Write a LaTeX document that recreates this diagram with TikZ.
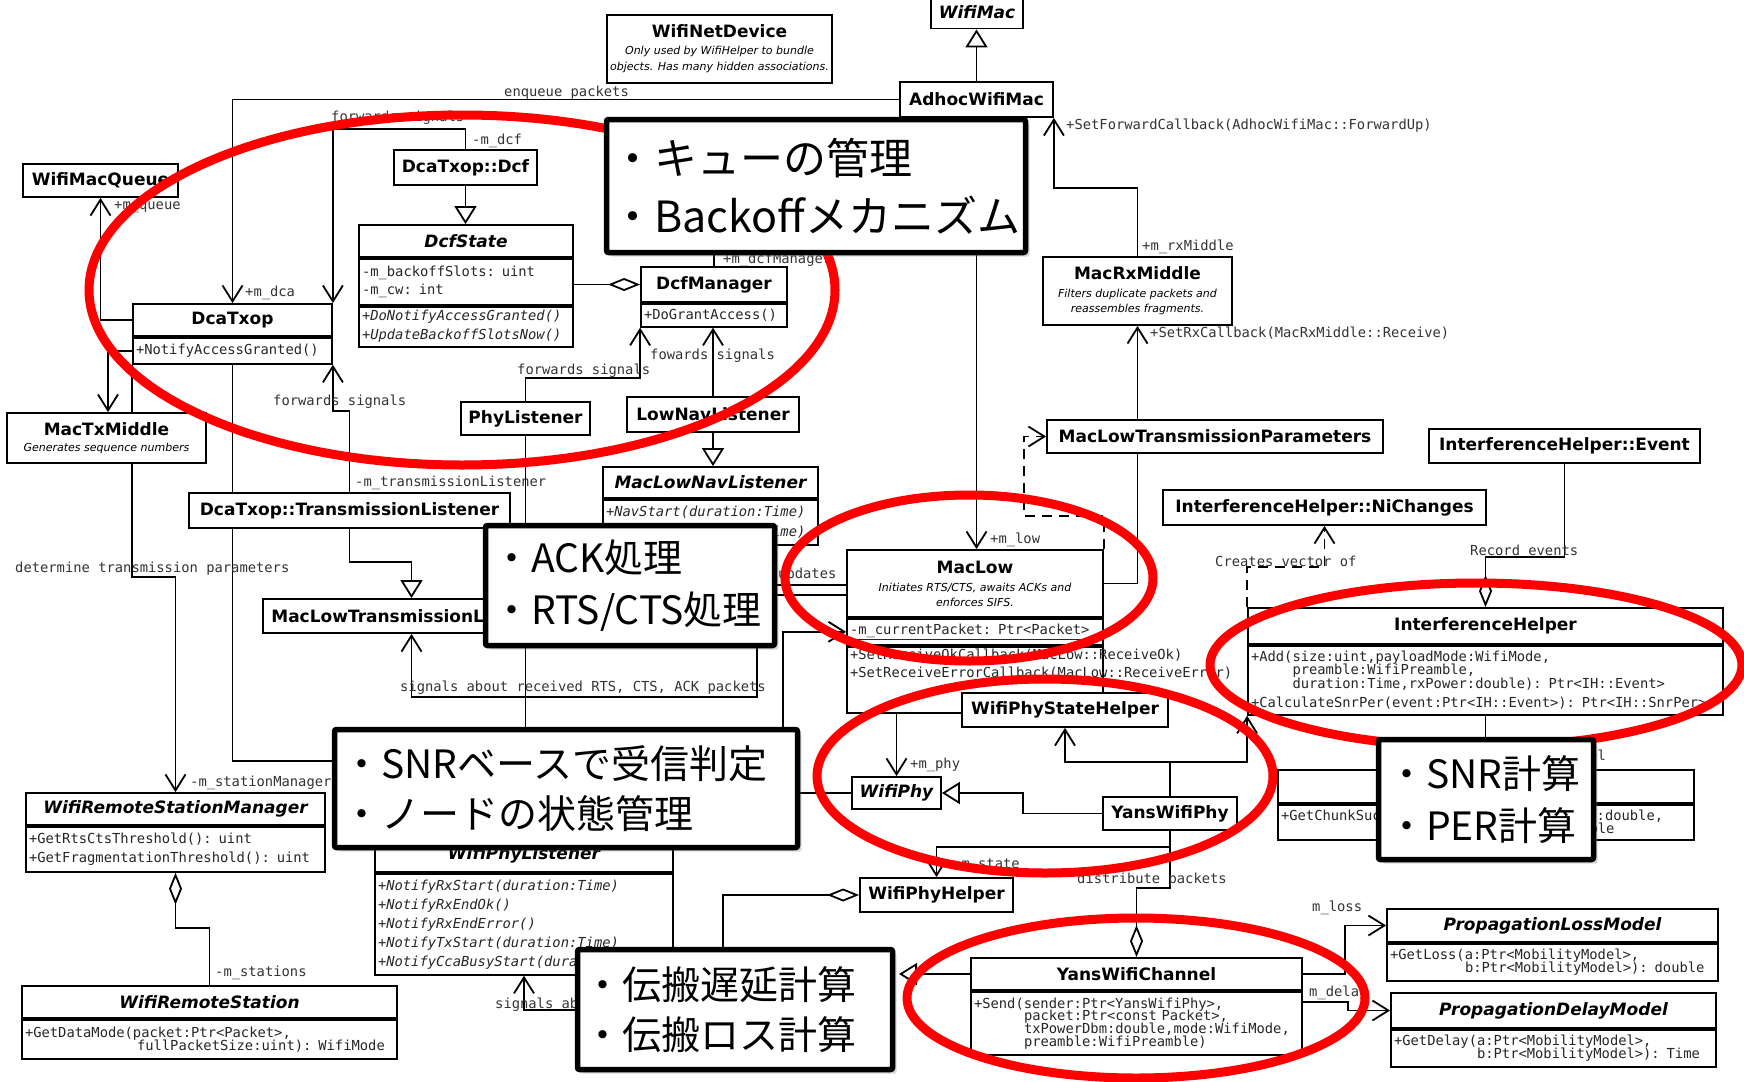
\documentclass[tikz,border=0pt]{standalone}
\usepackage{fontspec}
\usepackage{tikz}
\usetikzlibrary{arrows.meta,shadows,positioning}
\newfontfamily\umlsf{DejaVu Sans}
\newfontfamily\umltt{DejaVu Sans Mono}[HyphenChar=None]
\newfontfamily\jpfont{Noto Sans CJK JP}
\newcommand\umltitle{\umlsf\bfseries\fontsize{17}{18}\selectfont}
\newcommand\umldesc{\umlsf\mdseries\itshape\fontsize{11}{16}\selectfont}
\newcommand\umlcode{\umltt\fontsize{13.8}{18}\selectfont}
\tikzstyle{cls} = [rectangle, draw=black, line width=1.8pt, fill=white, inner sep=2pt, align=center, font=\umltitle]
\tikzstyle{abscls} = [cls, font=\umltitle\itshape]
\tikzstyle{ops} = [rectangle, draw=black, line width=1.8pt, fill=white, inner xsep=3pt, inner ysep=2pt, align=left, anchor=north west, font=\umlcode, text=black!85]
\tikzstyle{lbl} = [inner sep=0pt, anchor=west, font=\umlcode, text=black!80]
\tikzstyle{wire} = [line width=1.8pt]
\tikzstyle{assoc} = [wire, -{Straight Barb[length=16pt,width=20pt]}]
\tikzstyle{inherit} = [wire, -{Triangle[length=18pt,width=22pt,fill=white]}]
\tikzstyle{aggr} = [wire, {Diamond[length=32pt,width=13pt,fill=white]}-]
\tikzstyle{ring} = [draw=red, line width=9pt]
\tikzstyle{memo} = [rectangle, draw=black, line width=5.5pt, fill=white, rounded corners=2pt, inner ysep=2pt, align=left, drop shadow={opacity=0.3, shadow xshift=4pt, shadow yshift=-4pt}]

\begin{document}
\begin{tikzpicture}[x=1pt, y=-1pt]
        \fill[white] (0,0) rectangle (1744,1081);
        \useasboundingbox (0,0) rectangle (1744,1081);
        % MAC layer classes
        \node (wifimac) [abscls, minimum width=92pt, minimum height=33pt] at (977,12) {WifiMac};
        \node (adhoc) [cls, minimum width=153pt, minimum height=35pt] at (976.5,99.5) {AdhocWifiMac};
        \node (netdev) [cls, minimum width=225pt, minimum height=68pt] at (719.5,49) {WifiNetDevice\\[-1pt]{\umldesc Only used by WifiHelper to bundle}\\[-2pt]{\umldesc\makebox[0pt]{objects. Has many hidden associations.}}};
        \node (wifiqueue) [cls, minimum width=155pt, minimum height=33pt] at (100.5,180.5) {WifiMacQueue};
        \node (dcatxop) [cls, minimum width=199pt, minimum height=32pt] at (232.5,320) {DcaTxop};
        \node (dcatxopops) [ops, text width=193pt, minimum height=26pt] at (dcatxop.south west) {+NotifyAccessGranted()};
        \node (txmiddle) [cls, minimum width=199pt, minimum height=50pt] at (106.5,438) {MacTxMiddle\\[-2pt]{\umldesc Generates sequence numbers}};
        \node (dcf) [cls, minimum width=143pt, minimum height=35pt] at (465.5,167.5) {DcaTxop::Dcf};
        \node (dcfstate) [abscls, minimum width=214pt, minimum height=32pt] at (466,241) {DcfState};
        \node (dcfstateattr) [ops, text width=208pt, minimum height=46pt] at (dcfstate.south west) {-m\_backoffSlots: uint\\-m\_cw: int};
        \node (dcfstateops) [ops, text width=208pt, minimum height=40pt, font=\umlcode\itshape] at (dcfstateattr.south west) {+DoNotifyAccessGranted()\\[1pt]+UpdateBackoffSlotsNow()};
        \node (dcfmgr) [cls, minimum width=146pt, minimum height=35pt] at (714,284.5) {DcfManager};
        \node (dcfmgrops) [ops, text width=140pt, minimum height=23pt] at (dcfmgr.south west) {+DoGrantAccess()};
        \node (txlistener) [cls, minimum width=321pt, minimum height=35pt] at (349.5,510.5) {DcaTxop::TransmissionListener};
        \node (lowtxlistener) [cls, minimum width=297pt, minimum height=34pt] at (411.5,616) {MacLowTransmissionListener};
        \node (phylistener) [cls, minimum width=129pt, minimum height=33pt] at (525.5,418.5) {PhyListener};
        \node (lownav) [cls, minimum width=172pt, minimum height=35pt] at (713,414.5) {LowNavListener};
        \node (maclownav) [abscls, minimum width=215pt, minimum height=31pt] at (710.5,482.5) {MacLowNavListener};
        \node (maclownavops) [ops, text width=209pt, minimum height=45pt, font=\umlcode\itshape] at (maclownav.south west) {+NavStart(duration:Time)\\[2pt]+NavReset(duration:Time)};
        \node (maclow) [cls, minimum width=256pt, minimum height=67pt] at (975,583.5) {MacLow\\{\umldesc Initiates RTS/CTS, awaits ACKs and}\\[-3pt]{\umldesc enforces SIFS.}};
        \node (maclowattr) [ops, text width=250pt, minimum height=26pt] at (maclow.south west) {\underline{-m\_currentPacket: Ptr<Packet>}};
        \node (maclowops) [ops, text width=250pt] at (maclowattr.south west) {+SetReceiveOkCallback(MacLow::ReceiveOk)\\+SetReceiveErrorCallback(MacLow::ReceiveError)\rule[-34pt]{0pt}{34pt}};
        \node (macrx) [cls, minimum width=189pt, minimum height=68pt] at (1137.5,291) {MacRxMiddle\\{\umldesc Filters duplicate packets and}\\[-3pt]{\umldesc reassembles fragments.}};
        \node (wrsm) [abscls, minimum width=299pt, minimum height=32pt] at (175.5,809) {WifiRemoteStationManager};
        \node (wrsmops) [ops, text width=293pt, minimum height=45pt] at (wrsm.south west) {+GetRtsCtsThreshold(): uint\\[1pt]+GetFragmentationThreshold(): uint};
        \node (wrs) [abscls, minimum width=375pt, minimum height=32pt] at (209.5,1002) {WifiRemoteStation};
        \node (wrsops) [ops, text width=369pt, minimum height=39pt] at (wrs.south west) {+GetDataMode(packet:Ptr<Packet>,\\[-5pt]\hspace*{112pt}fullPacketSize:uint): WifiMode};
        % PHY and channel classes
        \node (nichanges) [cls, minimum width=323pt, minimum height=35pt] at (1324.5,507.5) {InterferenceHelper::NiChanges};
        \node (ihevent) [cls, minimum width=271pt, minimum height=34pt] at (1564.5,446) {InterferenceHelper::Event};
        \node (ih) [cls, minimum width=475pt, minimum height=36pt] at (1485.5,626) {InterferenceHelper};
        \node (ihops) [ops, text width=469pt, minimum height=69pt] at (ih.south west) {+Add(size:uint,payloadMode:WifiMode,\\[-5pt]\hspace*{41.5pt}preamble:WifiPreamble,\\[-4pt]\hspace*{41.5pt}duration:Time,rxPower:double): Ptr<IH::Event>\\[1pt]+CalculateSnrPer(event:Ptr<IH::Event>): Ptr<IH::SnrPer>};
        \node (errmodel) [cls, minimum width=416pt, minimum height=33pt] at (1486,786.5) {};
        \node (errmodelops) [ops, text width=410pt, minimum height=35pt] at (errmodel.south west) {+GetChunkSuccessRate(mode:WifiMode,snr:double,\\[-5pt]\hspace*{177pt}nbits:uint): double};
        \node (wpl) [abscls, minimum width=298pt, minimum height=34pt] at (524,855) {WifiPhyListener};
        \node (wplops) [ops, text width=292pt, minimum height=101pt, font=\umlcode\itshape] at (wpl.south west) {+NotifyRxStart(duration:Time)\\[1pt]+NotifyRxEndOk()\\[1pt]+NotifyRxEndError()\\[1pt]+NotifyTxStart(duration:Time)\\[1pt]+NotifyCcaBusyStart(duration:Time)};
        \node (phystate) [cls, minimum width=206pt, minimum height=34pt] at (1065,710) {WifiPhyStateHelper};
        \node (wifiphy) [abscls, minimum width=89pt, minimum height=32pt] at (896.5,793) {WifiPhy};
        \node (yansphy) [cls, minimum width=134pt, minimum height=33pt] at (1170,813.5) {YansWifiPhy};
        \node (phyhelper) [cls, minimum width=153pt, minimum height=34pt] at (936.5,895) {WifiPhyHelper};
        \node (yanschan) [cls, minimum width=331pt, minimum height=32pt] at (1136.5,974) {YansWifiChannel};
        \node (yanschanops) [ops, text width=325pt, minimum height=63pt] at (yanschan.south west) {+Send(sender:Ptr<YansWifiPhy>,\\[-5.3pt]\hspace*{50pt}packet:Ptr<const Packet>,\\[-5.3pt]\hspace*{50pt}txPowerDbm:double,mode:WifiMode,\\[-5.3pt]\hspace*{50pt}preamble:WifiPreamble)};
        \node (proploss) [abscls, minimum width=331pt, minimum height=33pt] at (1552.5,925.5) {PropagationLossModel};
        \node (proplossops) [ops, text width=325pt, minimum height=37pt] at (proploss.south west) {+GetLoss(a:Ptr<MobilityModel>,\\[-5pt]\hspace*{75pt}b:Ptr<MobilityModel>): double};
        \node (propdelay) [abscls, minimum width=325pt, minimum height=35pt] at (1553.5,1010.5) {PropagationDelayModel};
        \node (propdelayops) [ops, text width=319pt, minimum height=37pt] at (propdelay.south west) {+GetDelay(a:Ptr<MobilityModel>,\\[-5pt]\hspace*{83pt}b:Ptr<MobilityModel>): Time};
        \coordinate (wifichan) at (899,974);
        \coordinate (lowsrc) at (783,740);
        \coordinate (sigsrc) at (590,1010);

        % connectors
        \draw [assoc] (dcatxop.west |- 0,320) -| (wifiqueue.south);
        \draw [assoc] (dcatxopops.west) -| (108,0 |- txmiddle.north);
        \draw [wire] (dcatxopops.south west) -- (dcatxopops.south west |- txmiddle.north);
        \draw [assoc] (adhoc.west) -| (dcatxop.north);
        \draw [assoc] (dcf.north) |- (dcatxop.north east |- 0,129) -- (dcatxop.north east);
        \draw [wire] (dcatxopops.south) -- (dcatxopops.south |- txlistener.north);
        \draw [assoc] (txlistener.north) |- (dcatxopops.south east |- 0,411) -- (dcatxopops.south east);
        \draw [inherit] (txlistener.south) |- (lowtxlistener.north |- 0,562) -- (lowtxlistener.north);
        \draw [wire] (txlistener.south -| dcatxopops.south) -- ++(0,232) -- ++(120,0);
        \draw [assoc] (txmiddle.south -| dcatxopops.south west) |- (wrsm.north |- 0,577) -- (wrsm.north);
        \draw [aggr] (wrsmops.south) |- (wrs.north |- 0,928) -- (wrs.north);
        \draw [inherit] (dcf.south) -- (dcf.south |- dcfstate.north);
        \draw [aggr] (dcfmgr.west) -- (dcfmgr.west -| dcfstate.east);
        \draw [wire] (dcfmgr.north) -- ++(0,-40);
        \draw [assoc] (phylistener.north) |- (dcfmgrops.south west |- 0,378) -- (dcfmgrops.south west);
        \draw [assoc] (lownav.north) -- (lownav.north |- dcfmgrops.south);
        \draw [inherit] (lownav.south) -- (lownav.south |- maclownav.north);
        \draw [inherit] (adhoc.north) -- (adhoc.north |- wifimac.south);
        \draw [assoc] (adhoc.south) -- (adhoc.south |- maclow.north);
        \draw [assoc] (macrx.north) |- (adhoc.south east |- 0,188) -- (adhoc.south east);
        \draw [assoc] (maclow.east) -| (macrx.south);
        \node (mltparams) [cls, minimum width=336pt, minimum height=33pt] at (1215,436.5) {MacLowTransmissionParameters};
        \draw [assoc, dash pattern=on 10pt off 7pt] (maclow.north east) -- ++(0,-33) -| ([xshift=-22pt]mltparams.west) -- (mltparams.west);
        \draw [assoc, dash pattern=on 10pt off 7pt] (ih.north west) |- (nichanges.south |- 0,567) -- (nichanges.south);
        \draw [aggr] (ih.north) |- (ihevent.south |- 0,557) -- (ihevent.south);
        \draw [assoc] (ihops.south) -- (ihops.south |- errmodel.north);
        \draw [assoc] (yansphy.north) |- (phystate.south |- 0,762) -- (phystate.south);
        \draw [assoc] (yansphy.north) |- (ihops.south west |- 0,762) -- (ihops.south west);
        \draw [assoc] (maclowops.south -| wifiphy.north) -- (wifiphy.north);
        \draw [inherit] (yansphy.west) -| (1023,0 |- wifiphy.east) -- (wifiphy.east);
        \draw [assoc] (yansphy.south) |- (phyhelper.north |- 0,847) -- (phyhelper.north);
        \draw [aggr] (yanschan.north) |- (yansphy.south |- 0,888) -- (yansphy.south);
        \draw [aggr] (phyhelper.west) -| ++(-136,60);
        \draw [inherit] (yanschan.west) -- (wifichan);
        \draw [assoc] (yanschan.east) -| (1345,0 |- proploss.west) -- (proploss.west);
        \draw [assoc] (yanschan.east |- 0,1002) -| (1348,0 |- propdelay.west) -- (propdelay.west);
        \draw [inherit] (phylistener.south) -- (phylistener.south |- wpl.north);
        \draw [assoc] (maclow.west -| 757,0) |- (lowtxlistener.south |- 0,697) -- (lowtxlistener.south);
        \draw [wire] (maclow.west |- 0,585) -- ++(-90,0);
        \draw [wire] (maclow.west |- 0,595) -- ++(-90,0);
        \draw [assoc] (lowsrc) |- (maclowattr.west);
        \draw [wire] (wifiphy.west) -- ++(-62,0);
        \draw [assoc] (sigsrc) -| (wplops.south);

        % connector labels
        \node (lqueue) [lbl] at (114,207) {+m\_queue};
        \node (lenq) [lbl] at (504,93) {enqueue packets};
        \node (ldca) [lbl] at (245,293) {+m\_dca};
        \node (lfwda) [lbl] at (331,118) {forwards signals};
        \node (ldcf) [lbl] at (472,141) {-m\_dcf};
        \node (lfwdb) [lbl] at (273,402) {forwards signals};
        \node (ltxl) [lbl] at (355,483) {-m\_transmissionListener};
        \node (ldet) [lbl] at (15,569) {determine transmission parameters};
        \node (lstm) [lbl] at (190,783) {-m\_stationManager};
        \node (lsta) [lbl] at (215,973) {-m\_stations};
        \node (ldcfm) [lbl] at (723,260) {+m\_dcfManager};
        \node (lfwdc) [lbl] at (517,371) {forwards signals};
        \node (lfwdd) [lbl] at (650,356) {fowards signals};
        \node (lfwdup) [lbl] at (1066,126) {+SetForwardCallback(AdhocWifiMac::ForwardUp)};
        \node (lrxm) [lbl] at (1142,247) {+m\_rxMiddle};
        \node (lrxcb) [lbl] at (1150,333) {+SetRxCallback(MacRxMiddle::Receive)};
        \node (llow) [lbl] at (990,540) {+m\_low};
        \node (lsig) [lbl] at (400,688) {signals about received RTS, CTS, ACK packets};
        \node (lupd) [lbl] at (778,575) {updates};
        \node (lvec) [lbl] at (1215,561) {Creates vector of};
        \node (lrec) [lbl] at (1470,550) {Record events};
        \node (lerr) [lbl, anchor=east] at (1606,757) {-m\_errorRateModel};
        \node (lphy) [lbl] at (910,765) {+m\_phy};
        \node (lstate) [lbl] at (953,865) {-m\_state};
        \node (ldist) [lbl] at (1077,880) {distribute packets};
        \node (lsigb) [lbl] at (495,1005) {signals about};
        \node (lloss) [lbl] at (1312,908) {m\_loss};
        \node (ldelay) [lbl] at (1309,993) {m\_delay};

        % red marks
        \draw [ring] (462,290) ellipse [x radius=373pt, y radius=175pt];
        \draw [ring] (969,578) ellipse [x radius=184pt, y radius=83pt];
        \draw [ring] (1045,776) ellipse [x radius=228pt, y radius=97pt];
        \draw [ring] (1136,998) ellipse [x radius=229pt, y radius=80pt];
        \draw [ring] (1476,665) ellipse [x radius=266pt, y radius=82pt];

        % notes
        \node (qnote) [memo, minimum width=419pt, minimum height=133pt, inner xsep=4.5pt, text width=410pt, font=\jpfont\fontsize{43}{58}\selectfont] at (816,186) {・キューの管理\\・Backoffメカニズム};
        \node (acknote) [memo, minimum width=289pt, minimum height=120pt, inner xsep=6.5pt, text width=276pt, font=\jpfont\fontsize{39}{52}\selectfont] at (630,585.5) {・ACK処理\\・RTS/CTS処理};
        \node (snrnote) [memo, minimum width=463pt, minimum height=118pt, inner xsep=7.5pt, text width=448pt, font=\jpfont\fontsize{39}{50}\selectfont] at (566,788.5) {・SNRベースで受信判定\\・ノードの状態管理};
        \node (propnote) [memo, minimum width=315pt, minimum height=120pt, inner xsep=5.5pt, text width=304pt, font=\jpfont\fontsize{39}{50}\selectfont] at (735,1009.5) {・伝搬遅延計算\\・伝搬ロス計算};
        \node (pernote) [memo, minimum width=215pt, minimum height=120pt, inner xsep=8.5pt, text width=198pt, font=\jpfont\fontsize{39}{52}\selectfont] at (1486,799.5) {・SNR計算\\・PER計算};
    \end{tikzpicture}
\end{document}
